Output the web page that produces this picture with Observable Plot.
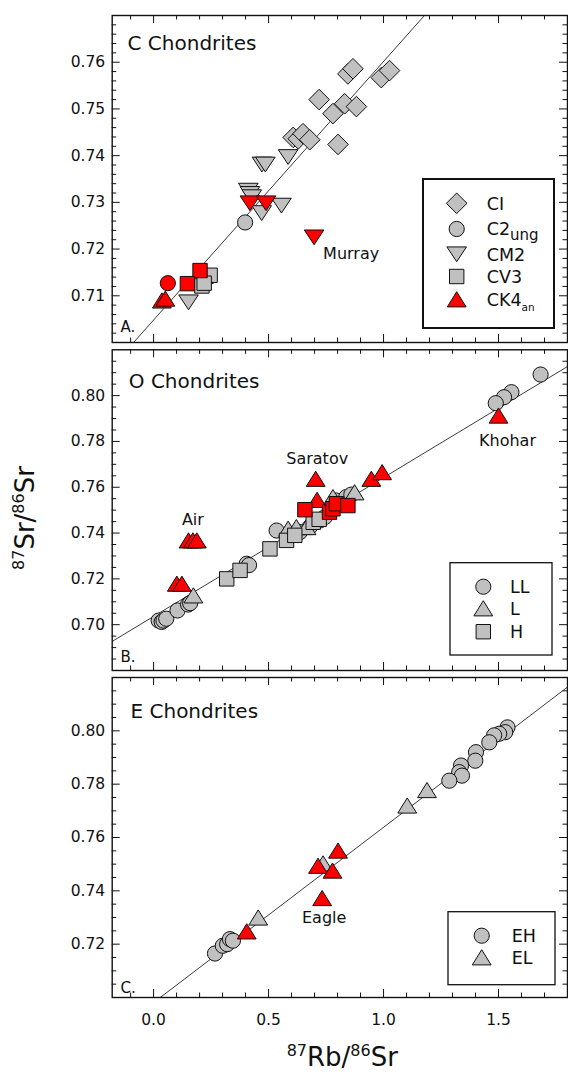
<!DOCTYPE html>
<html><head><meta charset="utf-8">
<script src="https://cdn.jsdelivr.net/npm/d3@7"></script>
<script src="https://cdn.jsdelivr.net/npm/@observablehq/plot@0.6"></script>
<style>
body{margin:0;background:#fff;}
#wrap{position:relative;width:568px;height:1076px;overflow:hidden;font-family:"DejaVu Sans";background:#fff;}
#wrap svg{position:absolute;left:0;}
</style></head><body><div id="wrap"></div>
<script>
// ---------- DATA ----------
const xMajor = [0, 0.5, 1.0, 1.5];
const xMinor = [-0.1, 0.1, 0.2, 0.3, 0.4, 0.6, 0.7, 0.8, 0.9, 1.1, 1.2, 1.3, 1.4, 1.6, 1.7];
const yMajorA = [0.71, 0.72, 0.73, 0.74, 0.75, 0.76];
const yMajorB = [0.70, 0.72, 0.74, 0.76, 0.78, 0.80];
const yMajorC = [0.72, 0.74, 0.76, 0.78, 0.80];

// Panel A: C chondrites
const ciX = [0.845, 0.867, 0.990, 1.026, 0.720, 0.831, 0.882, 0.780, 0.802, 0.607, 0.629, 0.650, 0.679];
const ciY = [0.7575, 0.7586, 0.7567, 0.7582, 0.7520, 0.7511, 0.7505, 0.7490, 0.7424, 0.7439, 0.7436, 0.7447, 0.7434];
const c2GrayX = [0.398], c2GrayY = [0.7257];
const c2RedX = [0.062], c2RedY = [0.7127];
const cm2GrayX = [0.471, 0.486, 0.585, 0.412, 0.419, 0.427, 0.556, 0.470, 0.152];
const cm2GrayY = [0.7381, 0.7381, 0.7397, 0.7325, 0.7318, 0.7311, 0.7293, 0.7277, 0.7086];
const cm2RedX = [0.419, 0.489, 0.698];
const cm2RedY = [0.7298, 0.7298, 0.7225];
const cv3GrayX = [0.229, 0.246, 0.210, 0.220];
const cv3GrayY = [0.7142, 0.7144, 0.7121, 0.7127];
const cv3RedX = [0.202, 0.147];
const cv3RedY = [0.7154, 0.7126];
const ck4RedX = [0.036, 0.051];
const ck4RedY = [0.7090, 0.7094];
const lineAX = [-0.087, 1.178], lineAY = [0.700, 0.770];

// Panel B: O chondrites
const llX = [1.683, 1.556, 1.524, 1.488, 0.022, 0.035, 0.043, 0.055, 0.104, 0.150, 0.159, 0.405, 0.415, 0.535, 0.636, 0.679, 0.723, 0.744, 0.795, 0.838, 0.860];
const llY = [0.8092, 0.8015, 0.7993, 0.7967, 0.7018, 0.7012, 0.7018, 0.7026, 0.7062, 0.7088, 0.7094, 0.7266, 0.7260, 0.7411, 0.7404, 0.7426, 0.7455, 0.7469, 0.7542, 0.7557, 0.7568];
const lGrayX = [0.173, 0.585, 0.621, 0.665, 0.874, 0.780];
const lGrayY = [0.7128, 0.7419, 0.7426, 0.7426, 0.7578, 0.7557];
const hGrayX = [0.318, 0.376, 0.506, 0.578, 0.614, 0.694, 0.720];
const hGrayY = [0.7200, 0.7237, 0.7331, 0.7368, 0.7390, 0.7447, 0.7460];
const lRedX = [0.101, 0.123, 0.152, 0.171, 0.188, 0.705, 0.711, 0.947, 0.994, 1.500];
const lRedY = [0.7179, 0.7179, 0.7368, 0.7368, 0.7368, 0.7637, 0.7545, 0.7637, 0.7666, 0.7913];
const hRedX = [0.658, 0.765, 0.780, 0.795, 0.845];
const hRedY = [0.7502, 0.7491, 0.7506, 0.7528, 0.7520];
const lineBX = [-0.18, 1.80], lineBY = [0.6927, 0.8127];

// Panel C: E chondrites
const ehX = [1.539, 1.529, 1.503, 1.481, 1.460, 1.402, 1.399, 1.337, 1.329, 1.341, 1.286, 0.267, 0.301, 0.320, 0.332, 0.345];
const ehY = [0.8013, 0.7995, 0.7989, 0.7983, 0.7957, 0.7920, 0.7888, 0.7870, 0.7845, 0.7832, 0.7813, 0.7165, 0.7194, 0.7200, 0.7219, 0.7213];
const elGrayX = [0.455, 1.103, 1.189, 0.737];
const elGrayY = [0.7300, 0.7720, 0.7778, 0.7503];
const elRedX = [0.405, 0.715, 0.802, 0.778, 0.733];
const elRedY = [0.7248, 0.7494, 0.7551, 0.7476, 0.7373];
const lineCX = [0.029, 1.80], lineCY = [0.700, 0.8164];

const annA = [{x: 0.698, y: 0.7225, label: "Murray"}];
const annB = [{x: 0.171, y: 0.7368, label: "Air"}, {x: 0.705, y: 0.7637, label: "Saratov"}, {x: 1.500, y: 0.7913, label: "Khohar"}];
const annC = [{x: 0.733, y: 0.7373, label: "Eagle"}];

// ---------- STYLE / HELPERS ----------
const GRAY = "#c0c0c0", RED = "#ff0000";
const W = 568, ML = 111.7, MR = 1;
const pts = (xs, ys) => xs.map((x, i) => ({x, y: ys[i]}));
const sym = {
  circle: {draw(c) { const r = 7.6; c.moveTo(r, 0); c.arc(0, 0, r, 0, 2 * Math.PI); c.closePath(); }},
  diamond: {draw(c) { const h = 10.3; c.moveTo(0, -h); c.lineTo(h, 0); c.lineTo(0, h); c.lineTo(-h, 0); c.closePath(); }},
  square: {draw(c) { const s = 7.2; c.moveTo(-s, -s); c.lineTo(s, -s); c.lineTo(s, s); c.lineTo(-s, s); c.closePath(); }},
  up: {draw(c) { const w = 9.4, h = 7.6; c.moveTo(0, -h); c.lineTo(w, h); c.lineTo(-w, h); c.closePath(); }},
  down: {draw(c) { const w = 9.8, h = 7.4; c.moveTo(-w, -h); c.lineTo(w, -h); c.lineTo(0, h); c.closePath(); }}
};
const dots = (xs, ys, s, fill) => Plot.dot(pts(xs, ys), {x: "x", y: "y", symbol: s, fill, stroke: "#111", strokeWidth: 1});
const minor = (a, b, step, skip) => d3.range(a, b + 1).filter(i => i % skip !== 0).map(i => +(i * step).toFixed(4));

function panel(cfg) {
  const fw = W - MR - ML;
  const fh = cfg.height - cfg.marginTop - cfg.marginBottom;
  const tk = {stroke: "#111", strokeWidth: 1};
  const marks = [
    Plot.line(pts(cfg.lineX, cfg.lineY), {x: "x", y: "y", stroke: "#3c3c3c", strokeWidth: 1, clip: true}),
    Plot.tickX(xMajor, {...tk, insetTop: fh - 8}),
    Plot.tickX(xMajor, {...tk, insetBottom: fh - 8}),
    Plot.tickX(xMinor, {...tk, insetTop: fh - 4.5}),
    Plot.tickX(xMinor, {...tk, insetBottom: fh - 4.5}),
    Plot.tickY(cfg.yMajor, {...tk, insetRight: fw - 8}),
    Plot.tickY(cfg.yMajor, {...tk, insetLeft: fw - 8}),
    Plot.tickY(cfg.yMinor, {...tk, insetRight: fw - 4.5}),
    Plot.tickY(cfg.yMinor, {...tk, insetLeft: fw - 4.5}),
    Plot.axisY(cfg.yMajor, {tickSize: 0, tickPadding: 7, tickFormat: d3.format(".2f"), fontSize: 15.5, label: null}),
    ...cfg.series,
    Plot.text([cfg.title], {text: d => d, frameAnchor: "top-left", dx: cfg.titleDx, dy: cfg.titleDy, lineAnchor: "top", textAnchor: "start", fontSize: 20}),
    Plot.text([cfg.letter], {text: d => d, frameAnchor: "bottom-left", dx: 8.3, dy: cfg.letterDy, lineAnchor: "top", textAnchor: "start", fontSize: 15}),
    ...cfg.ann.map(a => Plot.text([a], {x: "x", y: "y", text: "label", dx: a.dx, dy: a.dy, textAnchor: a.anchor, fontSize: 16})),
    Plot.frame({stroke: "#111", strokeWidth: 1.4})
  ];
  if (cfg.xAxis) marks.push(Plot.axisX(xMajor, {tickSize: 0, tickPadding: 16, tickFormat: d3.format(".1f"), fontSize: 15.5, label: null}));
  const svg = Plot.plot({
    width: W, height: cfg.height,
    marginLeft: ML, marginRight: MR, marginTop: cfg.marginTop, marginBottom: cfg.marginBottom,
    x: {domain: [-0.18, 1.8], axis: cfg.xAxis ? undefined : null},
    y: {domain: cfg.yDomain},
    style: {fontFamily: "DejaVu Sans", fontSize: "15px", background: "transparent", color: "#111", overflow: "visible"},
    marks
  });
  svg.style.top = cfg.top + "px";
  // legend
  const g = d3.select(svg).append("g").attr("text-anchor", "start");
  const L = cfg.legend;
  g.append("rect").attr("x", L.x).attr("y", L.y).attr("width", L.w).attr("height", L.h)
    .attr("fill", "white").attr("stroke", "#111").attr("stroke-width", L.sw);
  L.entries.forEach(e => {
    g.append("path").attr("d", d3.symbol().type(e.sym)()).attr("transform", `translate(${L.sx},${e.y})`)
      .attr("fill", e.fill || GRAY).attr("stroke", "#111").attr("stroke-width", 1);
    const t = g.append("text").attr("x", L.tx).attr("y", e.y).attr("dy", "0.36em").attr("text-anchor", "start")
      .style("font-size", "17.5px").style("font-family", "DejaVu Sans").attr("fill", "#111");
    t.append("tspan").text(e.label);
    if (e.sub) t.append("tspan").text(e.sub).attr("dy", 5).style("font-size", e.subSize + "px");
  });
  document.getElementById("wrap").appendChild(svg);
}

panel({
  top: 0, height: 346, marginTop: 15, marginBottom: 4, yDomain: [0.70, 0.77],
  yMajor: yMajorA, yMinor: minor(351, 384, 0.002, 5),
  lineX: lineAX, lineY: lineAY,
  title: "C Chondrites", titleDx: 15.3, titleDy: 20.4, letter: "A.", letterDy: -21,
  series: [
    dots(ciX, ciY, sym.diamond, GRAY),
    dots(c2GrayX, c2GrayY, sym.circle, GRAY),
    dots(cm2GrayX, cm2GrayY, sym.down, GRAY),
    dots(cv3GrayX, cv3GrayY, sym.square, GRAY),
    dots(ck4RedX, ck4RedY, sym.up, RED),
    dots(c2RedX, c2RedY, sym.circle, RED),
    dots(cv3RedX, cv3RedY, sym.square, RED),
    dots(cm2RedX, cm2RedY, sym.down, RED)
  ],
  ann: [{...annA[0], dx: 9, dy: 16, anchor: "start"}],
  legend: {x: 423, y: 179, w: 131, h: 149, sw: 2, sx: 456.7, tx: 486.7, entries: [
    {sym: sym.diamond, label: "CI", y: 203.3},
    {sym: sym.circle, label: "C2", sub: "ung", subSize: 15, y: 229},
    {sym: sym.down, label: "CM2", y: 254.3},
    {sym: sym.square, label: "CV3", y: 276.5},
    {sym: sym.up, label: "CK4", sub: "an", subSize: 10.5, y: 299.3, fill: RED}
  ]}
});

panel({
  top: 346, height: 328, marginTop: 3.3, marginBottom: 4, yDomain: [0.68, 0.82],
  yMajor: yMajorB, yMinor: minor(137, 163, 0.005, 4),
  lineX: lineBX, lineY: lineBY,
  title: "O Chondrites", titleDx: 16.6, titleDy: 24, letter: "B.", letterDy: -19.2,
  series: [
    dots(llX, llY, sym.circle, GRAY),
    dots(lGrayX, lGrayY, sym.up, GRAY),
    dots(hGrayX, hGrayY, sym.square, GRAY),
    dots(lRedX, lRedY, sym.up, RED),
    dots(hRedX, hRedY, sym.square, RED)
  ],
  ann: [
    {...annB[0], dx: 0, dy: -21, anchor: "middle"},
    {...annB[1], dx: 1.5, dy: -19.5, anchor: "middle"},
    {...annB[2], dx: 9, dy: 25, anchor: "middle"}
  ],
  legend: {x: 450, y: 216.7, w: 102, h: 92.3, sw: 1.3, sx: 483.3, tx: 510, entries: [
    {sym: sym.circle, label: "LL", y: 240.7},
    {sym: sym.up, label: "L", y: 262.3},
    {sym: sym.square, label: "H", y: 285.7}
  ]}
});

panel({
  top: 674, height: 402, marginTop: 3, marginBottom: 79, yDomain: [0.70, 0.82],
  yMajor: yMajorC, yMinor: minor(141, 163, 0.005, 4),
  lineX: lineCX, lineY: lineCY, xAxis: true,
  title: "E Chondrites", titleDx: 18.3, titleDy: 26, letter: "C.", letterDy: -15.5,
  series: [
    dots(ehX, ehY, sym.circle, GRAY),
    dots(elGrayX, elGrayY, sym.up, GRAY),
    dots(elRedX, elRedY, sym.up, RED)
  ],
  ann: [{...annC[0], dx: 2, dy: 20, anchor: "middle"}],
  legend: {x: 448, y: 237.7, w: 107, h: 73, sw: 1.3, sx: 481.7, tx: 511.7, entries: [
    {sym: sym.circle, label: "EH", y: 261.7},
    {sym: sym.up, label: "EL", y: 283.3}
  ]}
});

// axis titles
const ov = d3.select("#wrap").append("svg").attr("width", W).attr("height", 1076)
  .style("top", "0px").style("pointer-events", "none").style("font-family", "DejaVu Sans");
function isoTitle(sel, a, b, c, d) {
  const t = sel.append("text").attr("text-anchor", "middle").attr("fill", "#111").style("font-size", "26px");
  t.append("tspan").text(a).style("font-size", "16px").attr("dy", -10);
  t.append("tspan").text(b).attr("dy", 10);
  t.append("tspan").text(c).style("font-size", "16px").attr("dy", -10);
  t.append("tspan").text(d).attr("dy", 10);
  return t;
}
isoTitle(ov.append("g").attr("transform", "translate(342.3,1066)"), "87", "Rb/", "86", "Sr");
isoTitle(ov.append("g").attr("transform", "translate(34,518) rotate(-90)"), "87", "Sr/", "86", "Sr");
</script></body></html>
